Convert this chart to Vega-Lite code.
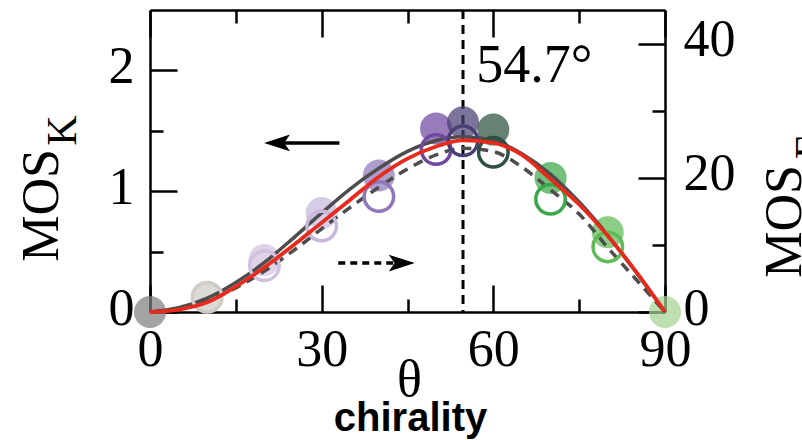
{
  "$schema": "https://vega.github.io/schema/vega-lite/v6.json",
  "width": 515,
  "height": 302,
  "autosize": {"type": "none"},
  "padding": {"left": 150, "top": 10, "right": 137, "bottom": 128},
  "background": "white",
  "config": {
    "view": {"stroke": null},
    "axis": {
      "domainColor": "black", "domainWidth": 2.5, "tickColor": "black", "tickWidth": 2.5,
      "labelFont": "Liberation Serif", "labelFontSize": 52, "labelColor": "black",
      "titleFont": "Liberation Serif", "titleFontWeight": "normal", "titleColor": "black",
      "grid": false, "labelFlush": false, "labelOverlap": false, "labelBound": false
    }
  },
  "title": {"text": "chirality", "orient": "bottom", "anchor": "middle", "font": "Liberation Sans", "fontWeight": "bold", "fontSize": 40, "color": "black", "offset": -6, "dx": 3},
  "datasets": {
    "points": [
      {"theta": 0, "K": 0, "E": null},
      {"theta": 10, "K": 0.124, "E": 2.2},
      {"theta": 20, "K": 0.43, "E": 6.9},
      {"theta": 30, "K": 0.82, "E": 12.8},
      {"theta": 40, "K": 1.13, "E": 17.2},
      {"theta": 50, "K": 1.52, "E": 24.2},
      {"theta": 54.7, "K": 1.57, "E": 25.5},
      {"theta": 60, "K": 1.51, "E": 23.8},
      {"theta": 70, "K": 1.11, "E": 16.8},
      {"theta": 80, "K": 0.66, "E": 9.7},
      {"theta": 90, "K": 0, "E": null}
    ],
    "fitK": [
      {"theta": 0, "K": 0}, {"theta": 5, "K": 0.035}, {"theta": 10, "K": 0.115}, {"theta": 15, "K": 0.245},
      {"theta": 20, "K": 0.41}, {"theta": 25, "K": 0.61}, {"theta": 30, "K": 0.82}, {"theta": 35, "K": 1.02},
      {"theta": 40, "K": 1.19}, {"theta": 45, "K": 1.33}, {"theta": 50, "K": 1.42}, {"theta": 54.7, "K": 1.45},
      {"theta": 60, "K": 1.42}, {"theta": 65, "K": 1.31}, {"theta": 70, "K": 1.14}, {"theta": 75, "K": 0.91},
      {"theta": 80, "K": 0.635}, {"theta": 85, "K": 0.325}, {"theta": 90, "K": 0}
    ],
    "fitE": [
      {"theta": 0, "E": 0}, {"theta": 5, "E": 0.5}, {"theta": 10, "E": 1.7}, {"theta": 15, "E": 3.6},
      {"theta": 20, "E": 6.1}, {"theta": 25, "E": 9.1}, {"theta": 30, "E": 12.4}, {"theta": 35, "E": 15.6},
      {"theta": 40, "E": 18.6}, {"theta": 45, "E": 21.3}, {"theta": 50, "E": 23.4}, {"theta": 54.7, "E": 24.4},
      {"theta": 60, "E": 23.9}, {"theta": 65, "E": 21.6}, {"theta": 70, "E": 18.2}, {"theta": 75, "E": 14.6},
      {"theta": 80, "E": 9.6}, {"theta": 85, "E": 4.8}, {"theta": 90, "E": 0}
    ],
    "red": [
      {"theta": 0, "K": 0}, {"theta": 5, "K": 0.02}, {"theta": 10, "K": 0.08}, {"theta": 15, "K": 0.21},
      {"theta": 20, "K": 0.37}, {"theta": 25, "K": 0.55}, {"theta": 30, "K": 0.74}, {"theta": 35, "K": 0.93},
      {"theta": 40, "K": 1.12}, {"theta": 45, "K": 1.27}, {"theta": 50, "K": 1.37}, {"theta": 54.7, "K": 1.42},
      {"theta": 60, "K": 1.4}, {"theta": 65, "K": 1.3}, {"theta": 70, "K": 1.1}, {"theta": 75, "K": 0.89},
      {"theta": 80, "K": 0.63}, {"theta": 85, "K": 0.33}, {"theta": 90, "K": 0}
    ]
  },
  "layer": [
    {
      "data": {"values": [{"angle": 54.7}]},
      "mark": {"type": "rule", "strokeDash": [9, 6], "strokeWidth": 3, "color": "black"},
      "encoding": {"x": {"field": "angle", "type": "quantitative", "axis": null}}
    },
    {
      "data": {"name": "points"},
      "mark": {"type": "circle", "size": 1024, "opacity": 0.72},
      "encoding": {
        "x": {"field": "theta", "type": "quantitative", "scale": {"domain": [0, 90], "nice": false, "zero": false},
          "axis": {"orient": "bottom", "values": [0, 30, 60, 90], "ticks": false, "labelPadding": 53, "labelBaseline": "alphabetic", "labelAlign": "center",
            "title": "θ", "titleFontSize": 52, "titleX": 259, "titleY": 83, "titleAlign": "center", "titleBaseline": "alphabetic", "titleAngle": 0}},
        "y": {"field": "K", "type": "quantitative", "scale": {"domain": [0, 2.5], "nice": false, "zero": false},
          "axis": {"orient": "left", "values": [0, 1, 2], "ticks": false, "labelPadding": 16, "labelBaseline": "alphabetic", "labelOffset": 12, "labelAlign": "right",
            "title": "MOS", "titleFontSize": 52, "titleX": -93, "titleY": 195, "titleAngle": 270, "titleAlign": "center", "titleBaseline": "alphabetic"}},
        "color": {"field": "theta", "type": "ordinal", "legend": null,
          "scale": {"domain": [0, 10, 20, 30, 40, 50, 54.7, 60, 70, 80, 90],
            "range": ["#808080", "#cfccc6", "#d2c0e0", "#c8b8dc", "#8f78bb", "#7048a0", "#4a3f75", "#2d5040", "#3aa84a", "#60bb56", "#a5d392"]}}
      }
    },
    {
      "data": {"name": "fitK"},
      "mark": {"type": "line", "color": "#4d4d4d", "strokeWidth": 3.5, "interpolate": "monotone"},
      "encoding": {
        "x": {"field": "theta", "type": "quantitative",
          "axis": {"orient": "bottom", "values": [0, 15, 30, 45, 60, 75, 90], "labels": false, "domain": false, "title": null,
            "tickSize": {"condition": {"test": "datum.value % 30 === 0", "value": -27}, "value": -13}}},
        "y": {"field": "K", "type": "quantitative", "scale": {"domain": [0, 2.5], "nice": false, "zero": false},
          "axis": {"orient": "left", "values": [0, 0.5, 1, 1.5, 2], "labels": false, "domain": false, "title": null,
            "tickSize": {"condition": {"test": "datum.value % 1 === 0", "value": -27}, "value": -13}}}
      }
    },
    {
      "data": {"name": "fitE"},
      "mark": {"type": "line", "color": "#4d4d4d", "strokeWidth": 3.5, "strokeDash": [10, 7], "interpolate": "monotone"},
      "encoding": {
        "x": {"field": "theta", "type": "quantitative", "axis": null},
        "y": {"field": "E", "type": "quantitative", "scale": {"domain": [0, 45], "nice": false, "zero": false},
          "axis": {"orient": "right", "values": [0, 10, 20, 30, 40], "labels": false, "domain": false,
            "title": "E", "titleFontSize": 42, "titleX": 158, "titleY": 136, "titleAngle": 270, "titleAlign": "center", "titleBaseline": "alphabetic",
            "tickSize": {"condition": {"test": "datum.value % 20 === 0", "value": -27}, "value": -13}}}
      }
    },
    {
      "data": {"name": "points"},
      "mark": {"type": "point", "shape": "circle", "filled": false, "size": 870, "strokeWidth": 3.5, "opacity": 1},
      "encoding": {
        "x": {"field": "theta", "type": "quantitative",
          "axis": {"orient": "top", "values": [0, 15, 30, 45, 60, 75, 90], "labels": false, "domain": true,
            "title": "K", "titleFontSize": 42, "titleX": -75, "titleY": 120, "titleAngle": 270, "titleAlign": "center", "titleBaseline": "alphabetic",
            "tickSize": {"condition": {"test": "datum.value % 30 === 0", "value": -27}, "value": -13}}},
        "y": {"field": "E", "type": "quantitative", "scale": {"domain": [0, 45], "nice": false, "zero": false},
          "axis": {"orient": "right", "values": [0, 20, 40], "ticks": false, "labelPadding": 18, "labelBaseline": "alphabetic", "labelOffset": 12, "labelAlign": "left",
            "title": "MOS", "titleFontSize": 52, "titleX": 135, "titleY": 211, "titleAngle": 270, "titleAlign": "center", "titleBaseline": "alphabetic"}},
        "color": {"field": "theta", "type": "ordinal", "legend": null}
      }
    },
    {
      "data": {"name": "red"},
      "mark": {"type": "line", "color": "#e8291c", "strokeWidth": 3.8, "interpolate": "monotone"},
      "encoding": {
        "x": {"field": "theta", "type": "quantitative", "axis": null},
        "y": {"field": "K", "type": "quantitative", "scale": {"domain": [0, 2.5], "nice": false, "zero": false}, "axis": null}
      }
    },
    {
      "data": {"values": [{"x": 22.2, "x2": 33.1, "y": 1.4}]},
      "mark": {"type": "rule", "color": "black", "strokeWidth": 3.5},
      "encoding": {
        "x": {"field": "x", "type": "quantitative", "axis": null},
        "x2": {"field": "x2"},
        "y": {"field": "y", "type": "quantitative", "scale": {"domain": [0, 2.5], "nice": false, "zero": false}, "axis": null}
      }
    },
    {
      "data": {"values": [{"x": 32.9, "x2": 43.0, "y": 0.405}]},
      "mark": {"type": "rule", "color": "black", "strokeWidth": 3.5, "strokeDash": [7, 5]},
      "encoding": {
        "x": {"field": "x", "type": "quantitative", "axis": null},
        "x2": {"field": "x2"},
        "y": {"field": "y", "type": "quantitative", "scale": {"domain": [0, 2.5], "nice": false, "zero": false}, "axis": null}
      }
    },
    {
      "data": {"values": [{"x": 22.2, "y": 1.4}]},
      "mark": {"type": "point", "shape": "M -1 0 L 1 -0.65 L 0.55 0 L 1 0.65 Z", "filled": true, "size": 676, "color": "black", "opacity": 1},
      "encoding": {
        "x": {"field": "x", "type": "quantitative", "axis": null},
        "y": {"field": "y", "type": "quantitative", "scale": {"domain": [0, 2.5], "nice": false, "zero": false}, "axis": null}
      }
    },
    {
      "data": {"values": [{"x": 44.0, "y": 0.405}]},
      "mark": {"type": "point", "shape": "M 1 0 L -1 -0.65 L -0.55 0 L -1 0.65 Z", "filled": true, "size": 676, "color": "black", "opacity": 1},
      "encoding": {
        "x": {"field": "x", "type": "quantitative", "axis": null},
        "y": {"field": "y", "type": "quantitative", "scale": {"domain": [0, 2.5], "nice": false, "zero": false}, "axis": null}
      }
    },
    {
      "data": {"values": [{"x": 57.0, "y": 1.904, "label": "54.7°"}]},
      "mark": {"type": "text", "font": "Liberation Serif", "fontSize": 54, "align": "left", "baseline": "alphabetic", "color": "black"},
      "encoding": {
        "x": {"field": "x", "type": "quantitative", "axis": null},
        "y": {"field": "y", "type": "quantitative", "scale": {"domain": [0, 2.5], "nice": false, "zero": false}, "axis": null},
        "text": {"field": "label"}
      }
    }
  ],
  "resolve": {"scale": {"y": "independent"}, "axis": {"x": "independent", "y": "independent"}}
}
